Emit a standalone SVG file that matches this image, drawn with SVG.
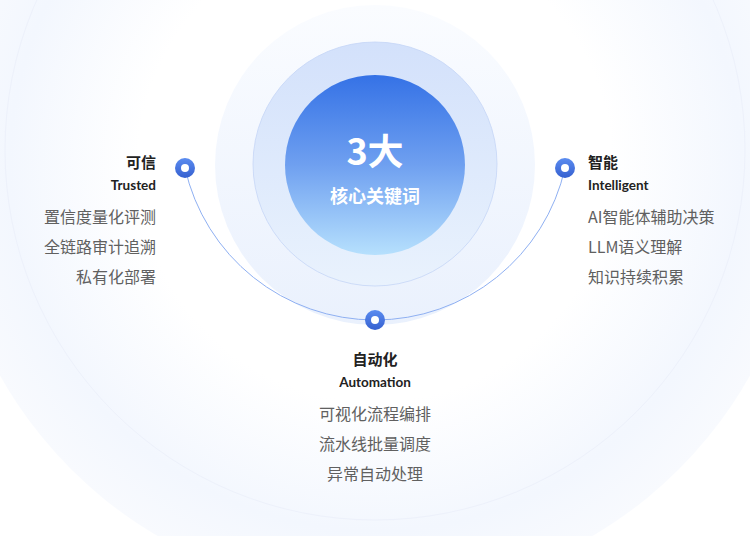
<svg xmlns="http://www.w3.org/2000/svg" width="750" height="536" viewBox="0 0 750 536">
<defs>
<radialGradient id="bg" cx="375" cy="165" r="430" gradientUnits="userSpaceOnUse">
<stop offset="0.55" stop-color="#ffffff"/><stop offset="0.85" stop-color="#f3f7fe"/><stop offset="1" stop-color="#f8fafe"/>
</radialGradient>
<linearGradient id="outer" x1="0" y1="0" x2="0" y2="1"><stop offset="0" stop-color="#fafcff"/><stop offset="1" stop-color="#eaf1fd"/></linearGradient>
<linearGradient id="mid" x1="0" y1="0" x2="0" y2="1"><stop offset="0" stop-color="#d3e1fb"/><stop offset="1" stop-color="#e9f2fd"/></linearGradient>
<linearGradient id="core" x1="0" y1="0" x2="0" y2="1"><stop offset="0" stop-color="#3572e6"/><stop offset="0.5" stop-color="#6fa0f0"/><stop offset="1" stop-color="#b6e0fd"/></linearGradient>
<linearGradient id="dot" x1="0" y1="0" x2="0" y2="1"><stop offset="0" stop-color="#5b8cf0"/><stop offset="1" stop-color="#3560d0"/></linearGradient>
<g id="marker"><circle r="10" fill="url(#dot)"/><circle r="4" fill="#fff"/></g>
</defs>
<style>
.t{font-family:"Noto Sans CJK SC","Noto Sans",sans-serif;font-weight:bold;font-size:15px;fill:#222}
.e{font-family:Lato,"Noto Sans",sans-serif;font-weight:bold;font-size:13.5px;fill:#222}
.i{font-family:"Noto Sans CJK SC",sans-serif;font-size:16px;fill:#606060}
</style>
<rect width="750" height="536" fill="#fff"/>
<circle cx="375" cy="165" r="430" fill="url(#bg)"/>
<circle cx="375" cy="150" r="370" fill="none" stroke="#edf1fb" stroke-width="1"/>
<circle cx="375" cy="165" r="160" fill="url(#outer)"/>
<circle cx="375" cy="164" r="122" fill="url(#mid)" stroke="#c5d6f6" stroke-width="0.8"/>
<circle cx="375" cy="165" r="90" fill="url(#core)"/>
<text x="375" y="165" text-anchor="middle" font-family="Noto Sans CJK SC,sans-serif" font-weight="bold" font-size="36" fill="#fff">3大</text>
<text x="375" y="203" text-anchor="middle" font-family="Noto Sans CJK SC,sans-serif" font-weight="bold" font-size="18" fill="#fff">核心关键词</text>
<g id="connectors">
<path d="M185 168 A194.75 194.75 0 0 0 565 168" fill="none" stroke="#8fb0f2" stroke-width="1"/>
</g>
<g id="node-trusted">
<use href="#marker" x="185" y="168"/>
<text class="t" x="156" y="168" text-anchor="end">可信</text>
<text class="e" x="156" y="190" text-anchor="end">Trusted</text>
<text class="i" x="156" y="223" text-anchor="end">置信度量化评测</text>
<text class="i" x="156" y="253" text-anchor="end">全链路审计追溯</text>
<text class="i" x="156" y="283" text-anchor="end">私有化部署</text>
</g>
<g id="node-intelligent">
<use href="#marker" x="565" y="168"/>
<text class="t" x="588" y="168">智能</text>
<text class="e" x="588" y="190">Intelligent</text>
<text class="i" x="588" y="223">AI智能体辅助决策</text>
<text class="i" x="588" y="253">LLM语义理解</text>
<text class="i" x="588" y="283">知识持续积累</text>
</g>
<g id="node-automation">
<use href="#marker" x="375" y="320"/>
<text class="t" x="375" y="365" text-anchor="middle">自动化</text>
<text class="e" x="375" y="387" text-anchor="middle">Automation</text>
<text class="i" x="375" y="420" text-anchor="middle">可视化流程编排</text>
<text class="i" x="375" y="450" text-anchor="middle">流水线批量调度</text>
<text class="i" x="375" y="480" text-anchor="middle">异常自动处理</text>
</g>
</svg>
